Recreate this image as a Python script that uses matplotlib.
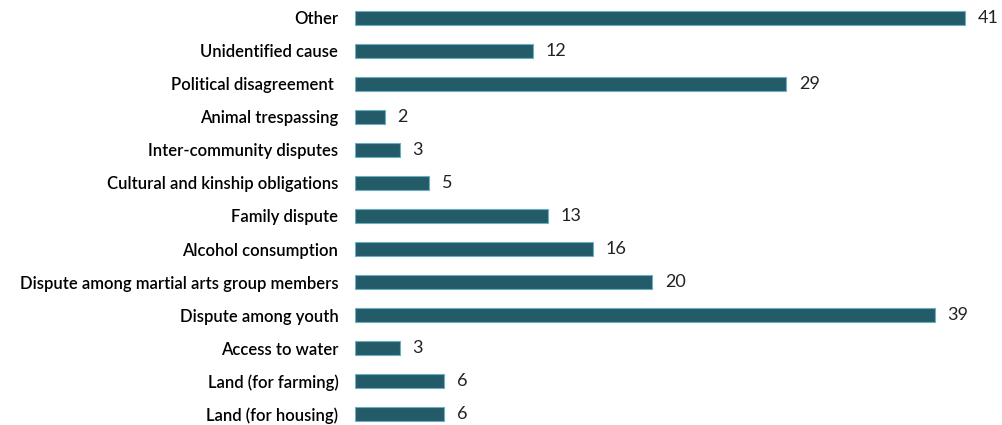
import matplotlib.pyplot as plt

# categories listed bottom to top
causes = ["Land (for housing)", "Land (for farming)", "Access to water",
          "Dispute among youth", "Dispute among martial arts group members",
          "Alcohol consumption", "Family dispute", "Cultural and kinship obligations",
          "Inter-community disputes", "Animal trespassing", "Political disagreement ",
          "Unidentified cause", "Other"]
counts = [6, 6, 3, 39, 20, 16, 13, 5, 3, 2, 29, 12, 41]

bar_color = "#245B68"
edge_color = "#6AB0C0"

fig = plt.figure(figsize=(10.02, 4.25), dpi=100)
ax = fig.add_axes([355 / 1002, 0, 1 - 355 / 1002, 1])

ypos = list(range(len(causes)))
ax.barh(ypos, counts, height=0.42, color=bar_color, edgecolor=edge_color, linewidth=0.8)

for y, v in zip(ypos, counts):
    ax.annotate(str(v), (v, y), xytext=(9, 0), textcoords="offset points",
                va="center", ha="left", fontsize=13, family="Lato", color="#222222")

ax.set_yticks(ypos)
ax.set_yticklabels(causes, fontsize=12, family="Lato", fontweight="semibold")
ax.tick_params(axis="y", length=0, pad=12)
ax.set_xticks([])
ax.set_xlim(0, 43.5)
ax.set_ylim(-0.333, 12.545)
for s in ax.spines.values():
    s.set_visible(False)

fig.savefig("out.png", dpi=100)
